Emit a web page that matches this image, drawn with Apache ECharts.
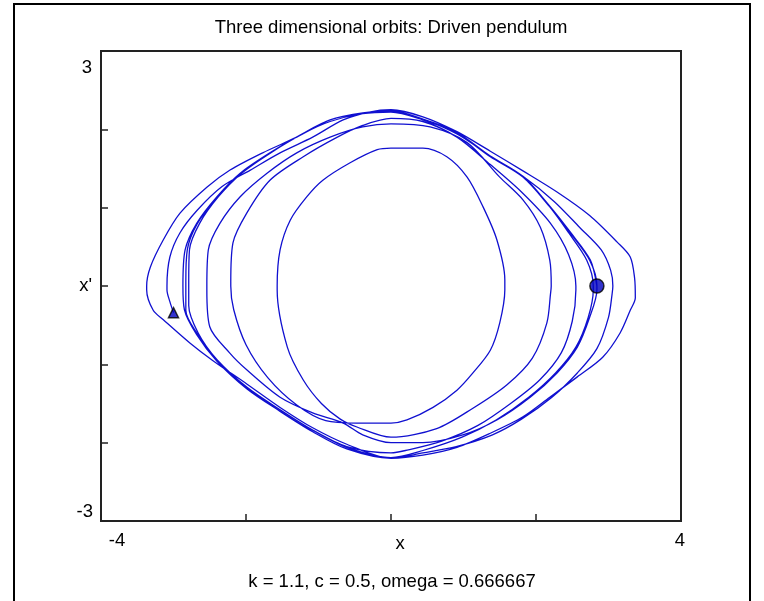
<!DOCTYPE html>
<html>
<head>
<meta charset="utf-8">
<script src="https://cdn.jsdelivr.net/npm/echarts@6/dist/echarts.min.js"></script>
<style>
html,body{margin:0;padding:0;background:#fff;}
#chart{width:764px;height:601px;}
</style>
</head>
<body>
<div id="chart"></div>
<script>
// ---- data (phase-plane points: [x, x']) ----
var startPoint = [[-3.0, -0.34]];
var startSeg = [[-3.0, -0.34], [-3.05, -0.2], [-3.09, -0.05]];
var top1 = [[-3.09,0],[-3.05,0.37],[-2.91,0.68],[-2.67,0.97],[-2.33,1.27],[-1.94,1.48],[-1.53,1.70],[-1.08,1.90],[-0.66,2.12],[-0.3,2.22],[0,2.25],[0.44,2.16],[0.91,1.97],[1.37,1.72],[1.82,1.47],[2.29,1.2],[2.74,0.9],[3.12,0.56],[3.30,0.37],[3.36,0.1]];
var bottom1 = [[3.37,-0.15],[3.30,-0.31],[3.16,-0.60],[2.92,-0.91],[2.57,-1.16],[2.19,-1.42],[1.82,-1.67],[1.37,-1.88],[0.91,-2.06],[0.44,-2.16],[0,-2.2],[-0.61,-2.02],[-1.08,-1.81],[-1.53,-1.55],[-1.99,-1.25],[-2.46,-0.95],[-2.77,-0.73],[-3.14,-0.43],[-3.28,-0.31],[-3.37,-0.05]];
var top2 = [[-3.37,0],[-3.32,0.24],[-3.14,0.59],[-2.91,0.93],[-2.54,1.26],[-2.22,1.48],[-1.77,1.70],[-1.30,1.90],[-0.84,2.12],[-0.39,2.21],[0,2.24],[0.44,2.13],[0.91,1.94],[1.37,1.66],[1.82,1.40],[2.25,1.08],[2.6,0.75],[2.9,0.46],[3.03,0.2],[3.06,0]];
var bottom2 = [[3.05,-0.1],[3.0,-0.4],[2.84,-0.8],[2.57,-1.11],[2.22,-1.42],[1.8,-1.7],[1.4,-1.9],[0.9,-2.05],[0.44,-2.13],[0,-2.2],[-0.61,-2.08],[-1.08,-1.86],[-1.53,-1.6],[-1.99,-1.31],[-2.40,-0.96],[-2.68,-0.62],[-2.85,-0.3],[-2.87,0]];
var top3 = [[-2.87,0],[-2.84,0.46],[-2.68,0.80],[-2.40,1.14],[-2.08,1.44],[-1.67,1.70],[-1.21,1.95],[-0.84,2.12],[-0.39,2.21],[0,2.23],[0.44,2.12],[0.91,1.95],[1.37,1.65],[1.82,1.39],[2.19,1.01],[2.47,0.68],[2.74,0.33],[2.84,0]];
var bottom3 = [[2.84,-0.05],[2.74,-0.40],[2.57,-0.78],[2.29,-1.11],[1.92,-1.42],[1.46,-1.71],[0.99,-1.9],[0.44,-2.0],[0,-2.0],[-0.39,-1.9],[-0.66,-1.75],[-1.08,-1.62],[-1.53,-1.42],[-1.99,-1.07],[-2.22,-0.86],[-2.5,-0.52],[-2.54,-0.05]];
var top4 = [[-2.54,0],[-2.52,0.46],[-2.36,0.8],[-2.08,1.14],[-1.71,1.44],[-1.3,1.7],[-0.84,1.9],[-0.39,2.03],[0,2.07],[0.54,2.03],[1.05,1.83],[1.5,1.39],[1.82,1.1],[2.06,0.75],[2.19,0.33],[2.21,0]];
var bottom4 = [[2.2,-0.1],[2.15,-0.47],[1.95,-0.92],[1.6,-1.26],[1.13,-1.56],[0.63,-1.82],[0,-1.93],[-0.47,-1.8],[-0.7,-1.7],[-0.96,-1.5],[-1.21,-1.2],[-1.43,-0.78],[-1.57,-0.05]];
var top5 = [[-1.57,0],[-1.53,0.46],[-1.39,0.84],[-1.16,1.14],[-0.94,1.35],[-0.57,1.57],[-0.19,1.74],[0,1.76],[0.44,1.76],[0.77,1.65],[1.05,1.39],[1.27,1.01],[1.46,0.59],[1.57,0.08]];
var bottom5 = [[1.57,-0.05],[1.5,-0.47],[1.37,-0.82],[1.13,-1.11],[0.91,-1.33],[0.58,-1.55],[0.22,-1.71],[0,-1.75],[-0.47,-1.75],[-0.9,-1.72],[-1.3,-1.52],[-1.7,-1.17],[-2.0,-0.75],[-2.17,-0.3],[-2.21,0]];
var top6 = [[-2.21,0.05],[-2.18,0.55],[-1.99,0.93],[-1.67,1.35],[-1.21,1.65],[-0.74,1.9],[-0.39,2.05],[0,2.14],[0.44,2.1],[0.91,1.9],[1.37,1.55],[1.8,1.2],[2.2,0.8],[2.45,0.4],[2.55,0]];
var bottom6 = [[2.55,-0.05],[2.5,-0.45],[2.35,-0.85],[2.05,-1.2],[1.65,-1.5],[1.2,-1.78],[0.7,-1.98],[0.2,-2.1],[0,-2.13],[-0.61,-2.05],[-1.08,-1.84],[-1.53,-1.58],[-1.99,-1.29],[-2.40,-0.94],[-2.66,-0.6],[-2.79,-0.25],[-2.79,0]];
var top7 = [[-2.79,0.05],[-2.78,0.46],[-2.64,0.8],[-2.38,1.14],[-2.06,1.44],[-1.66,1.7],[-1.2,1.95],[-0.84,2.1],[-0.39,2.2],[0,2.22],[0.44,2.12],[0.91,1.95],[1.37,1.65],[1.82,1.39],[2.19,1.01],[2.45,0.68],[2.7,0.33],[2.79,0]];
var bottom7 = [[2.79,-0.05],[2.72,-0.40],[2.55,-0.78],[2.27,-1.11],[1.9,-1.42],[1.45,-1.71],[0.98,-1.93],[0.44,-2.1],[0,-2.19],[-0.61,-2.06],[-1.08,-1.84],[-1.53,-1.58],[-1.99,-1.29],[-2.40,-0.94],[-2.68,-0.6],[-2.83,-0.31],[-2.83,0]];
var top8 = [[-2.83,0.05],[-2.81,0.46],[-2.67,0.8],[-2.39,1.14],[-2.07,1.44],[-1.67,1.7],[-1.21,1.95],[-0.84,2.12],[-0.39,2.21],[0,2.23],[0.44,2.13],[0.91,1.96],[1.37,1.66],[1.82,1.40],[2.19,1.02],[2.48,0.68],[2.75,0.33],[2.84,0]];
var endPoint = [[2.84, 0]];

var xTickLabels = ['-4', 'x', '4'];
var yTickLabels = ['3', "x'", '-3'];
var titleText = 'Three dimensional orbits: Driven pendulum';
var footerText = 'k = 1.1, c = 0.5, omega = 0.666667';

var path = [].concat(startSeg, top1, bottom1, top2, bottom2, top3, bottom3, top4, bottom4, top5, bottom5, top6, bottom6, top7, bottom7, top8);

var chart = echarts.init(document.getElementById('chart'), null, {renderer: 'canvas'});
var FONT = 'Liberation Sans, Arial, sans-serif';
var FS = '18.5px ';
var gridL = 101, gridT = 51, gridW = 580, gridH = 470;

var option = {
  animation: false,
  backgroundColor: '#fff',
  grid: {left: gridL, top: gridT, width: gridW, height: gridH, show: true, borderColor: '#222', borderWidth: 2, backgroundColor: 'transparent'},
  xAxis: {
    type: 'value', min: -4, max: 4, interval: 2, position: 'bottom',
    axisLine: {show: false, onZero: false},
    axisTick: {show: true, inside: true, length: 7, lineStyle: {color: '#222', width: 1.5}},
    axisLabel: {show: false},
    splitLine: {show: false}
  },
  yAxis: {
    type: 'value', min: -3, max: 3, interval: 1, position: 'left',
    axisLine: {show: false, onZero: false},
    axisTick: {show: true, inside: true, length: 7, lineStyle: {color: '#222', width: 1.5}},
    axisLabel: {show: false},
    splitLine: {show: false}
  },
  series: [
    {
      type: 'line', data: path, showSymbol: false, smooth: 0.3,
      lineStyle: {color: '#1010d0', width: 1.3}, z: 2
    },
    {
      type: 'scatter', data: startPoint, symbol: 'triangle', symbolSize: 10,
      itemStyle: {color: '#0000c0', borderColor: '#000', borderWidth: 1.5}, z: 3
    },
    {
      type: 'scatter', data: endPoint, symbol: 'circle', symbolSize: 14,
      itemStyle: {color: '#0000c0', borderColor: '#000', borderWidth: 1.5}, z: 3
    }
  ],
  graphic: [
    {type: 'rect', shape: {x: 14, y: 4, width: 736, height: 620}, style: {fill: 'none', stroke: '#000', lineWidth: 2}, silent: true},
    {type: 'text', x: 391, y: 28, style: {text: titleText, font: FS + FONT, fill: '#000', textAlign: 'center', textVerticalAlign: 'middle'}},
    {type: 'text', x: 392, y: 582, style: {text: footerText, font: FS + FONT, fill: '#000', textAlign: 'center', textVerticalAlign: 'middle'}},
    {type: 'text', x: 92, y: 68, style: {text: yTickLabels[0], font: FS + FONT, fill: '#000', textAlign: 'right', textVerticalAlign: 'middle'}},
    {type: 'text', x: 92, y: 286, style: {text: yTickLabels[1], font: FS + FONT, fill: '#000', textAlign: 'right', textVerticalAlign: 'middle'}},
    {type: 'text', x: 93, y: 512, style: {text: yTickLabels[2], font: FS + FONT, fill: '#000', textAlign: 'right', textVerticalAlign: 'middle'}},
    {type: 'text', x: 117, y: 541, style: {text: xTickLabels[0], font: FS + FONT, fill: '#000', textAlign: 'center', textVerticalAlign: 'middle'}},
    {type: 'text', x: 400, y: 544, style: {text: xTickLabels[1], font: FS + FONT, fill: '#000', textAlign: 'center', textVerticalAlign: 'middle'}},
    {type: 'text', x: 680, y: 541, style: {text: xTickLabels[2], font: FS + FONT, fill: '#000', textAlign: 'center', textVerticalAlign: 'middle'}}
  ]
};
chart.setOption(option);
</script>
</body>
</html>
